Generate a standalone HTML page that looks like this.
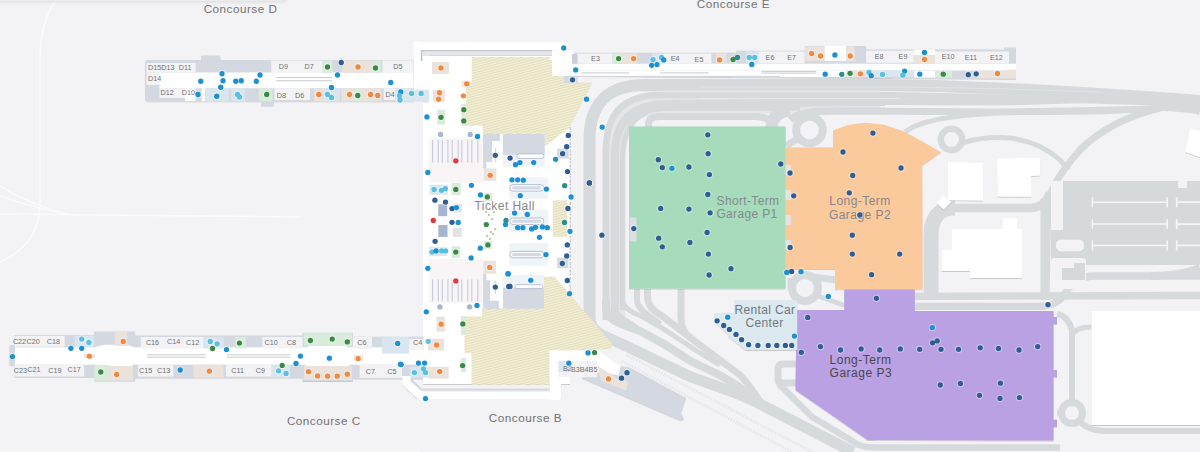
<!DOCTYPE html>
<html><head><meta charset="utf-8"><title>Airport Map</title>
<style>
html,body{margin:0;padding:0;background:#f3f3f5;}
body{width:1200px;height:452px;overflow:hidden;position:relative;font-family:"Liberation Sans",sans-serif;}
svg{display:block;position:absolute;left:0;top:0;}
svg text{font-family:"Liberation Sans",sans-serif;}
.topbar{position:absolute;left:-10px;top:-12px;width:300px;height:13px;border-radius:0 0 10px 0;box-shadow:0 1px 4px rgba(0,0,0,0.10);background:#ebebed;}
.botbar{position:absolute;left:0;top:449.5px;width:420px;height:10px;background:#f7f7f8;}
</style></head><body>
<svg width="1200" height="452" viewBox="0 0 1200 452">
<rect width="1200" height="452" fill="#f3f3f5"/>
<defs><pattern id="hatch" width="2.5" height="2.5" patternUnits="userSpaceOnUse" patternTransform="rotate(-15)"><rect width="2.5" height="2.5" fill="#f2efda"/><rect width="2.5" height="1.15" fill="#e4deb8"/></pattern><filter id="sh" x="-5%" y="-5%" width="110%" height="115%"><feDropShadow dx="0" dy="0.6" stdDeviation="0.65" flood-color="#000" flood-opacity="0.28"/></filter><filter id="sh2" x="-5%" y="-5%" width="110%" height="115%"><feDropShadow dx="0" dy="0.5" stdDeviation="0.5" flood-color="#000" flood-opacity="0.15"/></filter></defs>
<path d="M56,0 Q40,22 40,60 L40,205 Q39,245 0,262" fill="none" stroke="#fbfbfc" stroke-width="1.6" />
<path d="M0,214 Q150,215 300,217" fill="none" stroke="#fbfbfc" stroke-width="1.4" />
<path d="M0,186 Q30,205 70,215" fill="none" stroke="#fbfbfc" stroke-width="1.2" />
<path d="M0,196 Q40,210 80,216" fill="none" stroke="#fbfbfc" stroke-width="1.2" />
<path d="M589.5,320 L589.5,140 Q589.5,85 645,85 L880,85 Q1000,86 1200,101" fill="none" stroke="#d7dadd" stroke-width="12" />
<path d="M613.75,320 L613.75,155 Q613.75,102 668,102 L880,102" fill="none" stroke="#e4e6e9" stroke-width="23" />
<path d="M606,320 L606,150 Q606,95 660,95 L880,95 Q1000,97 1200,104" fill="none" stroke="#d7dadd" stroke-width="6.5" />
<path d="M615,320 L615,155 Q615,104 668,104 L880,102 Q1000,103 1200,106" fill="none" stroke="#d7dadd" stroke-width="8" />
<path d="M622.5,310 L622.5,160 Q622.5,108 668,108 L800,108" fill="none" stroke="#d7dadd" stroke-width="5.5" />
<path d="M648.5,127 L648.5,124 Q648.5,116.5 660,116.5 L755,116.5 Q771.5,116.5 771.5,128" fill="none" stroke="#d7dadd" stroke-width="7" />
<path d="M790,120 Q800,111 830,111 L880,111 Q1000,111.5 1080,111 Q1130,110 1160,107 Q1185,108 1200,111" fill="none" stroke="#d7dadd" stroke-width="7.5" />
<polygon points="885,105 1000,105.6 1080,103.3 1155,105.5 1080,107.3 1000,108.5 885,107.7" fill="#f3f3f5" />
<path d="M640,91.6 L880,91.6" fill="none" stroke="#e8eaec" stroke-width="1" />
<path d="M700,87 L900,87 Q1000,88 1100,92" fill="none" stroke="#e3e5e7" stroke-width="0.8" />
<path d="M700,98.4 L900,98.4" fill="none" stroke="#e6e8ea" stroke-width="1" />
<path d="M771.5,128 Q771.5,113 790,110" fill="none" stroke="#d7dadd" stroke-width="12" />
<circle cx="809.5" cy="130" r="13.3" fill="none" stroke="#d7dadd" stroke-width="8"/>
<path d="M786,146 L800,137" fill="none" stroke="#d7dadd" stroke-width="7" />
<path d="M905,132 Q925,116 1000,113 L1050,111.5" fill="none" stroke="#d7dadd" stroke-width="5" />
<circle cx="951.5" cy="139.5" r="10.7" fill="none" stroke="#d7dadd" stroke-width="6.5"/>
<path d="M962,143 Q985,136 1010,138 Q1040,142 1060,160 L1068,170" fill="none" stroke="#d7dadd" stroke-width="5" />
<path d="M1160,108 Q1110,120 1080,150 Q1055,178 1048,200 L1046,300" fill="none" stroke="#d7dadd" stroke-width="7" />
<path d="M955,208 Q931,208 931,236 L931,300" fill="none" stroke="#d7dadd" stroke-width="15" />
<path d="M945,208 L1030,208 Q1044,207.5 1050,193" fill="none" stroke="#d7dadd" stroke-width="8.5" />
<path d="M1044.7,200 L1044.7,300" fill="none" stroke="#d7dadd" stroke-width="8.6" />
<path d="M915,296.3 L1200,295.5" fill="none" stroke="#d7dadd" stroke-width="7.3" />
<path d="M915,306.4 L1040,306.4 Q1058,306 1066,292 Q1076,276 1095,276 L1200,276" fill="none" stroke="#d7dadd" stroke-width="7.3" />
<path d="M1150,276 Q1180,276 1200,268" fill="none" stroke="#d7dadd" stroke-width="8" />
<rect x="1051" y="181" width="149" height="84" fill="#d6d9dc"/>
<rect x="1051" y="181" width="12" height="49" fill="#f3f3f5"/>
<rect x="1056" y="239.7" width="28" height="11.6" fill="#f3f3f5" rx="5"/>
<rect x="1178" y="181" width="9" height="7" fill="#f3f3f5" rx="1"/>
<path d="M1092.4,202.2 H1167.2 M1092.4,197.2 V207.2 M1167.2,197.2 V207.2" fill="none" stroke="#f4f5f6" stroke-width="1.5" />
<path d="M1176.7,197.2 V207.2 M1176.7,202.2 H1200" fill="none" stroke="#f4f5f6" stroke-width="1.8" />
<path d="M1092.4,224.1 H1167.2 M1092.4,219.1 V229.1 M1167.2,219.1 V229.1" fill="none" stroke="#f4f5f6" stroke-width="1.5" />
<path d="M1176.7,219.1 V229.1 M1176.7,224.1 H1200" fill="none" stroke="#f4f5f6" stroke-width="1.8" />
<path d="M1092.4,245.4 H1167.2 M1092.4,240.4 V250.4 M1167.2,240.4 V250.4" fill="none" stroke="#f4f5f6" stroke-width="1.5" />
<path d="M1176.7,240.4 V250.4 M1176.7,245.4 H1200" fill="none" stroke="#f4f5f6" stroke-width="1.8" />
<rect x="1051" y="258" width="35" height="31" fill="#f3f3f5" rx="3"/>
<rect x="1062" y="263" width="23" height="17" fill="#d6d9dc"/>
<rect x="1062" y="263" width="12" height="5" fill="#f3f3f5"/>
<path d="M1057,314 Q1068,316 1072,330 L1072,402" fill="none" stroke="#d7dadd" stroke-width="6" />
<path d="M1072,335 Q1076,327 1092,327" fill="none" stroke="#d7dadd" stroke-width="5" />
<circle cx="1072" cy="413" r="10.5" fill="none" stroke="#d7dadd" stroke-width="7"/>
<path d="M1080,422 Q1090,431 1105,431 L1200,431" fill="none" stroke="#d7dadd" stroke-width="6" />
<path d="M1060,413 L1057,413" fill="none" stroke="#d7dadd" stroke-width="5" />
<circle cx="805" cy="288" r="13" fill="none" stroke="#d7dadd" stroke-width="8"/>
<path d="M818,296 L846,306" fill="none" stroke="#d7dadd" stroke-width="5" />
<path d="M812,277 L846,281" fill="none" stroke="#d7dadd" stroke-width="7" />
<rect x="786" y="250" width="4.5" height="26" fill="#d7dadd"/>
<path d="M790,278 L790,290" fill="none" stroke="#d7dadd" stroke-width="5" />
<path d="M589.5,300 L589.5,314 C589.5,325 594,331 604,336 L628.7,347.2 L689.6,376.4 L720,387.4 Q745,396 762,405 L853,452" fill="none" stroke="#d7dadd" stroke-width="11" />
<path d="M606,300 L606,308 C606,316 612,320 621.4,324 L640.9,331.4 L665.2,344.8 L689.6,360.6 L720,375.2 Q742,387 762,405" fill="none" stroke="#d7dadd" stroke-width="8" />
<path d="M615,300 L615,306 C615,314 620,318 628,322 L641,331.4" fill="none" stroke="#d7dadd" stroke-width="6" />
<path d="M622.5,295 L622.5,300 C622.5,306 630,312 640.9,316 L660.4,327 L700,353 L720,365" fill="none" stroke="#d7dadd" stroke-width="5" />
<path d="M637,289 L637,300 C637,306 641,310 648,315 L660.4,324.1" fill="none" stroke="#d7dadd" stroke-width="6" />
<path d="M647.5,289 L647.5,296 C647.5,305 652,310 662,316 L700,345 L740,375 Q752,388 762,405" fill="none" stroke="#d7dadd" stroke-width="7" />
<path d="M681,289 L681,318 C681,328 684,333 691,338.5" fill="none" stroke="#d7dadd" stroke-width="7" />
<path d="M798,364 L783,364 Q778,364 778,369 L778,378 Q778,383 783,383 L798,383" fill="none" stroke="#d7dadd" stroke-width="7" />
<path d="M778,378 Q778,385 784,389 L812.2,417 L852.9,441.4 Q860,447.5 875,447.5 L1060,447.5" fill="none" stroke="#d7dadd" stroke-width="6.5" />
<path d="M626.5,354.7 L812.2,452" fill="none" stroke="#e5e6e9" stroke-width="3" stroke-dasharray="1.4 1.4"/>
<path d="M622,361.3 L791.8,452" fill="none" stroke="#e5e6e9" stroke-width="3" stroke-dasharray="1.4 1.4"/>
<polygon points="947.5,162 983.4,162.6 983,200.5 947.5,200" fill="#fff" filter="url(#sh)"/>
<polygon points="997,158.5 1040,157.5 1040.5,175.5 1031,176 1031,196.8 997.5,196.5" fill="#fff" filter="url(#sh)"/>
<polygon points="936.2,203 943.3,194.8 951.1,202 943.8,209.5" fill="#fff" filter="url(#sh)"/>
<polygon points="952,229 1003,229 1003,218 1017,218 1017,229 1022,229 1022,278 970,278 970,271 941.6,271 941.6,249.6 952,249.6" fill="#fff" filter="url(#sh)"/>
<polygon points="1190,128 1200,131 1200,157 1185,152" fill="#fff" filter="url(#sh)"/>
<rect x="1091.5" y="311" width="108.5" height="114" fill="#fff" filter="url(#sh)"/>
<rect x="629" y="126.5" width="156.5" height="162" fill="#a6dcbb" filter="url(#sh)"/>
<polygon points="785.5,147.5 833.2,147.5 833.2,130.5 848,125 865,122.7 885,125 905,132 925,143 941,152.2 922.2,165.3 922.5,289.2 835,289.2 835,269 785.5,269" fill="#fbca9c" filter="url(#sh)"/>
<polygon points="844.3,289.5 914.8,289.5 914.8,311 1053.5,311 1053.5,317 1057,317 1057,324 1053.5,324 1053.5,370 1057,370 1057,377 1053.5,377 1053.5,419.7 1057,419.7 1057,426.7 1053.5,426.7 1053.5,440.5 867.6,440 795.5,390 796.6,310 844.3,310" fill="#b9a1e4" filter="url(#sh)"/>
<rect x="785.5" y="165" width="5.5" height="10" fill="#e5e3e0"/>
<rect x="785.5" y="190" width="5.5" height="10" fill="#e5e3e0"/>
<rect x="785.5" y="215" width="5.5" height="10" fill="#e5e3e0"/>
<rect x="785.5" y="240" width="5.5" height="10" fill="#e5e3e0"/>
<rect x="629.7" y="217.5" width="6.8" height="23.9" fill="#dcdee1"/>
<polygon points="734,300.3 797.3,300.3 797.3,350.1 745.5,350.1 728.2,336.2 727.6,333.5 714.3,321.6 714.3,312.9 734,312.9" fill="#dce9f1" filter="url(#sh)"/>
<rect x="413.4" y="41.6" width="153.3" height="8.6" fill="#fff" filter="url(#sh)"/>
<rect x="413.4" y="41.6" width="8.1" height="19.4" fill="#fff" filter="url(#sh)"/>
<rect x="413.4" y="45" width="153.3" height="5.2" fill="#fff"/>
<rect x="558" y="45" width="8.7" height="11" fill="#fff"/>
<polygon points="421.4,50.7 552,50.7 552,55.5 429.2,55.5 429.2,62 421.4,62" fill="#e4e6ea" />
<path d="M421.4,62 V50.7 H552" fill="none" stroke="#c3c7ce" stroke-width="1.3" />
<path d="M429.2,62 V55.5 H552" fill="none" stroke="#d3d6dc" stroke-width="0.9" />
<rect x="413.4" y="61" width="9.6" height="28.6" fill="#fff"/>
<rect x="413.4" y="89.6" width="9.6" height="12.2" fill="#dae6ef"/>
<polygon points="423,56 555,56 555,54 572,54 572,74 568,76 568,83 578,83 570,110 570,384 423,384" fill="#fff" filter="url(#sh)"/>
<path d="M570.2,112 L570.2,300" fill="none" stroke="#b9bec6" stroke-width="1.1" stroke-dasharray="3 1 2 1.5"/>
<polygon points="471.7,57 549.8,57 549.8,60 555,60 555,73 560,75 564,76 563.7,82 592.6,82.8 569.7,127.6 544.8,146.5 544.8,134 482.7,134 482.7,125.7 465.8,125.7 465.8,86 471.7,86" fill="url(#hatch)" />
<polygon points="464.5,316.4 482,316.4 482,308.6 544,308.6 544,276.7 554.8,276.7 611.5,343 611.5,349 549.7,351.8 549.7,384.8 471.5,384.8 471.5,353.2 464.5,353.2" fill="url(#hatch)" />
<polygon points="552.8,200.3 567.2,200.3 567.2,236.9 552.8,236.9" fill="url(#hatch)" />
<rect x="429" y="138" width="54.3" height="44.7" fill="#f9f4f5"/>
<rect x="429" y="258.8" width="54.3" height="44.5" fill="#f9f4f5"/>
<rect x="432.05" y="140" width="1.1" height="22.5" fill="#c3cbde"/>
<rect x="432.05" y="279.5" width="1.1" height="21.8" fill="#c3cbde"/>
<rect x="437.75" y="140" width="1.1" height="22.5" fill="#c3cbde"/>
<rect x="437.75" y="279.5" width="1.1" height="21.8" fill="#c3cbde"/>
<rect x="441.75" y="140" width="1.1" height="22.5" fill="#c3cbde"/>
<rect x="441.75" y="279.5" width="1.1" height="21.8" fill="#c3cbde"/>
<rect x="447.35" y="140" width="1.1" height="22.5" fill="#c3cbde"/>
<rect x="447.35" y="279.5" width="1.1" height="21.8" fill="#c3cbde"/>
<rect x="451.65" y="140" width="1.1" height="22.5" fill="#c3cbde"/>
<rect x="451.65" y="279.5" width="1.1" height="21.8" fill="#c3cbde"/>
<rect x="457.65" y="140" width="1.1" height="22.5" fill="#c3cbde"/>
<rect x="457.65" y="279.5" width="1.1" height="21.8" fill="#c3cbde"/>
<rect x="461.25" y="140" width="1.1" height="22.5" fill="#c3cbde"/>
<rect x="461.25" y="279.5" width="1.1" height="21.8" fill="#c3cbde"/>
<rect x="467.25" y="140" width="1.1" height="22.5" fill="#c3cbde"/>
<rect x="467.25" y="279.5" width="1.1" height="21.8" fill="#c3cbde"/>
<rect x="471.25" y="140" width="1.1" height="22.5" fill="#c3cbde"/>
<rect x="471.25" y="279.5" width="1.1" height="21.8" fill="#c3cbde"/>
<rect x="477.25" y="140" width="1.1" height="22.5" fill="#c3cbde"/>
<rect x="477.25" y="279.5" width="1.1" height="21.8" fill="#c3cbde"/>
<polygon points="483.1,133.8 499.9,133.8 499.9,141 492,141 492,162 486.4,162 486.4,168.4 483.1,168.4" fill="#d3d8e1" />
<rect x="495.2" y="148" width="1" height="14" fill="#c5ccd9"/>
<rect x="503" y="134" width="41.8" height="20.9" fill="#d3d8e1"/>
<rect x="503" y="154.9" width="41.8" height="11.9" fill="#eef4f8"/>
<rect x="517" y="153.9" width="26.8" height="4.6" fill="#fff" rx="2" stroke="#aeb8cb" stroke-width="0.8"/>
<rect x="509" y="177.2" width="39.4" height="21.9" fill="#eef4f8" rx="3"/>
<rect x="510" y="184.7" width="33.8" height="6.4" fill="#fff" rx="3" stroke="#aeb8cb" stroke-width="0.9"/>
<rect x="512" y="186.3" width="29" height="3.2" fill="#d3dae6" rx="1.5"/>
<rect x="509" y="209.6" width="39.4" height="22.7" fill="#eef4f8" rx="3"/>
<rect x="510" y="218" width="33.8" height="6.4" fill="#fff" rx="3" stroke="#aeb8cb" stroke-width="0.9"/>
<rect x="512" y="219.6" width="29" height="3.2" fill="#d3dae6" rx="1.5"/>
<rect x="509" y="242.9" width="39.4" height="22.5" fill="#eef4f8" rx="3"/>
<rect x="510" y="251.4" width="33.8" height="6.4" fill="#fff" rx="3" stroke="#aeb8cb" stroke-width="0.9"/>
<rect x="512" y="253" width="29" height="3.2" fill="#d3dae6" rx="1.5"/>
<rect x="503" y="275" width="41" height="12.7" fill="#eef4f8"/>
<rect x="503" y="287.7" width="41" height="21.1" fill="#d3d8e1"/>
<rect x="515" y="284.7" width="28" height="3.9" fill="#fff" rx="2" stroke="#aeb8cb" stroke-width="0.8"/>
<polygon points="483.1,273.7 486.4,273.7 486.4,280.2 490.1,280.2 490.1,300.7 498.9,300.7 498.9,308.9 483.1,308.9" fill="#d3d8e1" />
<rect x="494.7" y="280.5" width="1" height="13.5" fill="#c5ccd9"/>
<rect x="483.7" y="168.4" width="12.6" height="12.4" fill="#ebe2dc"/>
<rect x="483.3" y="260.8" width="12.8" height="12.9" fill="#ebe2dc"/>
<rect x="438.3" y="204.3" width="8.9" height="11.9" fill="#a7b5d0"/>
<rect x="438.3" y="225" width="9.2" height="11.9" fill="#a7b5d0"/>
<rect x="452.9" y="203.7" width="8.9" height="8.9" fill="#e2e3e7"/>
<rect x="452.9" y="227.9" width="8.9" height="9" fill="#e2e3e7"/>
<rect x="429.6" y="184.7" width="18.3" height="10" fill="#dae6ef"/>
<rect x="429" y="246.8" width="17.9" height="9.4" fill="#dae6ef"/>
<rect x="451.5" y="183.1" width="9.3" height="11.9" fill="#d9ecdc"/>
<rect x="451.5" y="246.4" width="8.7" height="11.4" fill="#d9ecdc"/>
<rect x="484" y="193" width="8" height="8" fill="#d9ecdc"/>
<rect x="484" y="241" width="8" height="8" fill="#d9ecdc"/>
<rect x="557.2" y="148.5" width="11.5" height="10" fill="#d3d8e1"/>
<rect x="557.2" y="257.8" width="11.1" height="10.3" fill="#d3d8e1"/>
<rect x="432" y="62" width="17" height="11.9" fill="#ebe2dc"/>
<rect x="432.9" y="89.8" width="11.9" height="12" fill="#ebe2dc"/>
<rect x="461.8" y="80.8" width="8.9" height="6" fill="#ebe2dc"/>
<rect x="437.3" y="109.7" width="7.9" height="15" fill="#d9ecdc"/>
<rect x="461.5" y="104" width="4.5" height="22" fill="#d9ecdc"/>
<rect x="423" y="89.8" width="6" height="12.9" fill="#dae6ef"/>
<rect x="436.5" y="316.9" width="8.5" height="14.6" fill="#ebe2dc"/>
<rect x="461" y="316" width="5" height="19" fill="#d9ecdc"/>
<rect x="461" y="358" width="5" height="14" fill="#d9ecdc"/>
<polygon points="147,60 200.75,60 201.5,55.5 220,55.5 220.5,60 413.5,60 413.5,101.3 273.75,101.3 273.75,105.5 261.25,105.5 261.25,101.3 147,101.3 145,99.3 145,62" fill="#d3d8e1" filter="url(#sh)"/>
<rect x="159.5" y="72.5" width="254" height="15.75" fill="#fff"/>
<rect x="146.5" y="63" width="49" height="9.5" fill="#f3f3f6"/>
<rect x="146.5" y="72.5" width="13.5" height="12.5" fill="#f3f3f6"/>
<rect x="159.5" y="88.25" width="25.5" height="9.75" fill="#f3f3f6"/>
<rect x="185" y="88.25" width="10.5" height="12.75" fill="#fbfbfc"/>
<rect x="271.25" y="60.5" width="51.25" height="12.5" fill="#f3f3f6"/>
<rect x="322.5" y="60.5" width="10" height="12.5" fill="#d9ecdc"/>
<rect x="342.5" y="60.5" width="30" height="12.5" fill="#ebe2dc"/>
<rect x="372.5" y="60.5" width="8.25" height="12.5" fill="#d9ecdc"/>
<rect x="382.5" y="60.5" width="31" height="12.5" fill="#f3f3f6"/>
<rect x="201.6" y="88.25" width="3.4" height="13.05" fill="#fff"/>
<rect x="205" y="88.25" width="23.75" height="13.05" fill="#dae6ef"/>
<rect x="231.25" y="88.25" width="13.75" height="13.05" fill="#dae6ef"/>
<rect x="258.75" y="88.25" width="13.75" height="13.05" fill="#d9ecdc"/>
<rect x="274.5" y="88.25" width="35.5" height="11.75" fill="#f3f3f6"/>
<rect x="313.75" y="88.25" width="8.75" height="13.05" fill="#ebe2dc"/>
<rect x="322.5" y="88.25" width="17.5" height="13.05" fill="#dae6ef"/>
<rect x="341.25" y="88.25" width="40" height="13.05" fill="#ebe2dc"/>
<rect x="353.75" y="88.25" width="8.75" height="13.05" fill="#d9ecdc"/>
<rect x="383.75" y="88.25" width="11.25" height="11.75" fill="#f3f3f6"/>
<rect x="395" y="88.25" width="18.5" height="13.05" fill="#dae6ef"/>
<rect x="276.25" y="77" width="55.75" height="1" fill="#c8cbd0"/>
<rect x="276.25" y="80.25" width="55.75" height="1" fill="#c8cbd0"/>
<polygon points="572,52.8 736.3,52.8 736.3,50.8 804.9,50.8 804.9,46 866.1,46 866.1,49.5 1004,49.5 1004,47.5 1015.5,47.5 1016,49 1016,78.8 572,76" fill="#d3d8e1" filter="url(#sh)"/>
<rect x="572" y="63.7" width="444" height="6.8" fill="#fff"/>
<rect x="572" y="70.5" width="208" height="5.3" fill="#fff"/>
<rect x="552" y="50.5" width="22" height="25.3" fill="#fff"/>
<rect x="780" y="70.5" width="66" height="6.5" fill="#fff"/>
<rect x="572" y="54" width="5.6" height="9.7" fill="#c9cfd9"/>
<rect x="563.7" y="75.9" width="14" height="6.9" fill="#d3d8e1"/>
<rect x="577.6" y="53.5" width="34.7" height="10.2" fill="#f3f3f6"/>
<rect x="612.3" y="53.5" width="9.7" height="10.2" fill="#d9ecdc"/>
<rect x="622" y="53.5" width="15.2" height="10.2" fill="#ebe2dc"/>
<rect x="652.3" y="53.5" width="10.9" height="10.2" fill="#dae6ef"/>
<rect x="663.2" y="53.5" width="22.8" height="10.2" fill="#f3f3f6"/>
<rect x="686" y="53.5" width="25.4" height="10.2" fill="#f3f3f6"/>
<rect x="715.8" y="53.5" width="10.8" height="10.2" fill="#ebe2dc"/>
<rect x="729.8" y="57" width="6.5" height="6.7" fill="#d9ecdc"/>
<rect x="746" y="51.3" width="12.5" height="12.4" fill="#dae6ef"/>
<rect x="758.5" y="51.5" width="46.1" height="11.8" fill="#f3f3f6"/>
<rect x="804.9" y="46.5" width="10.3" height="14.6" fill="#ebe2dc"/>
<rect x="815.2" y="46.5" width="9.5" height="14.6" fill="#ebe2dc"/>
<rect x="824.7" y="46" width="21.3" height="15.1" fill="#fff"/>
<rect x="846" y="46.5" width="8.7" height="14.6" fill="#ebe2dc"/>
<rect x="866.1" y="50.8" width="47.7" height="12" fill="#f3f3f6"/>
<rect x="913.8" y="49.5" width="21.2" height="5.5" fill="#fff"/>
<rect x="913.8" y="55" width="21.2" height="8.5" fill="#ebe2dc"/>
<rect x="935" y="51.5" width="74" height="12" fill="#f3f3f6"/>
<rect x="846" y="70.3" width="8.2" height="6.7" fill="#d9ecdc"/>
<rect x="854.2" y="70.3" width="10.8" height="6.7" fill="#ebe2dc"/>
<rect x="865" y="70.3" width="48.8" height="6.7" fill="#dae6ef"/>
<rect x="914" y="71" width="21" height="6.5" fill="#fff"/>
<rect x="935" y="71" width="17" height="6.5" fill="#d9ecdc"/>
<rect x="978" y="71" width="38" height="7.5" fill="#ebe2dc"/>
<rect x="1007" y="69.5" width="9" height="1.5" fill="#ebe2dc"/>
<rect x="581.4" y="72.4" width="48" height="1" fill="#c8cbd0"/>
<rect x="660" y="72.4" width="48.7" height="1" fill="#c8cbd0"/>
<rect x="761.3" y="70.9" width="55" height="1" fill="#c8cbd0"/>
<rect x="761.3" y="72.6" width="55" height="1" fill="#c8cbd0"/>
<polygon points="14.4,335 94.2,335 94.2,331.5 135.2,331.5 135.2,335.5 302.7,335.5 302.7,332.7 353,332.7 353,336.8 423,336.8 423,378.4 353,378.4 353,381 302.7,381 302.7,377.6 135.2,377.6 135.2,380.4 94.2,380.4 94.2,376.8 14.4,376.8" fill="#d3d8e1" filter="url(#sh)"/>
<rect x="9.3" y="345" width="5.7" height="21" fill="#d3d8e1" rx="1"/>
<rect x="15" y="347.3" width="408" height="17.4" fill="#fff"/>
<path d="M94.2,350 Q97,345 105,344.8 L125,344.8 Q133,345 135.2,350 L135.2,362 Q133,367.5 125,367.8 L105,367.8 Q97,367.5 94.2,362 Z" fill="#fff" stroke="none" stroke-width="0" />
<polygon points="302.7,350 311,344.8 344,344.8 352.3,350 352.3,362 345,370.4 310,370.4 302.7,362" fill="#fff" />
<rect x="14.4" y="336" width="50.3" height="10.6" fill="#f3f3f6"/>
<rect x="74.8" y="336" width="19.4" height="11" fill="#dae6ef"/>
<rect x="14.4" y="364.5" width="69.7" height="12" fill="#f3f3f6"/>
<rect x="94.2" y="365" width="15.1" height="15.4" fill="#d9ecdc"/>
<rect x="109.3" y="366" width="23.7" height="14.4" fill="#ebe2dc"/>
<rect x="114.6" y="331.5" width="12.7" height="14.5" fill="#ebe2dc"/>
<rect x="84" y="354" width="11" height="4" fill="#ebe2dc"/>
<rect x="140.8" y="337" width="62.7" height="11.5" fill="#f3f3f6"/>
<rect x="203.5" y="337" width="20.1" height="11.5" fill="#dae6ef"/>
<rect x="235.2" y="337" width="10.8" height="11.5" fill="#d9ecdc"/>
<rect x="262.3" y="337" width="40.4" height="11.5" fill="#f3f3f6"/>
<rect x="138" y="364.7" width="35.3" height="11.8" fill="#f3f3f6"/>
<rect x="193.4" y="364.7" width="30.2" height="12.9" fill="#ebe2dc"/>
<rect x="225.9" y="364.7" width="45.7" height="11.8" fill="#f3f3f6"/>
<rect x="271.6" y="364.7" width="18.4" height="12.9" fill="#dae6ef"/>
<rect x="304" y="333" width="48" height="13" fill="#d9ecdc"/>
<rect x="304" y="366" width="48" height="14" fill="#ebe2dc"/>
<rect x="354" y="355" width="9" height="6" fill="#ebe2dc"/>
<rect x="353" y="337" width="19" height="12" fill="#f3f3f6"/>
<rect x="381.8" y="337" width="27.4" height="16.6" fill="#dae6ef"/>
<rect x="409.2" y="338.8" width="15.1" height="10.9" fill="#f3f3f6"/>
<rect x="359.6" y="364.5" width="42.5" height="13.5" fill="#f3f3f6"/>
<rect x="409.7" y="366.8" width="19" height="10.9" fill="#dae6ef"/>
<rect x="428.7" y="366.8" width="20" height="11.8" fill="#ebe2dc"/>
<rect x="428" y="338.8" width="16.3" height="11.7" fill="#ebe2dc"/>
<rect x="147" y="354.3" width="58.8" height="1" fill="#c8cbd0"/>
<rect x="147" y="356.7" width="58.8" height="1" fill="#c8cbd0"/>
<rect x="226.7" y="354.3" width="63.3" height="1" fill="#c8cbd0"/>
<rect x="226.7" y="356.7" width="63.3" height="1" fill="#c8cbd0"/>
<path d="M406.5,376 L406.5,383 L421.5,396.3 L556.8,396.3 L556.8,372" fill="none" stroke="#fff" stroke-width="8.5" stroke-linejoin="round" filter="url(#sh)"/>
<path d="M412,378.4 L412,381 L421.5,389.6 L550.8,389.6 L550.8,352" fill="none" stroke="#d6d9de" stroke-width="2.4" />
<polygon points="581.5,377.8 620.5,366.3 628.4,367.1 686,398.1 681,413 684.2,419 680,420.3" fill="#d3d8e1" filter="url(#sh)"/>
<polygon points="549.7,350.5 598.4,350.5 620.5,366.5 618.7,375.4 598,371 549.7,377" fill="#fff" />
<rect x="549.7" y="350.5" width="10.6" height="49.5" fill="#fff"/>
<rect x="558.5" y="360.9" width="38.6" height="16.3" fill="#f3f3f6"/>
<rect x="558.5" y="360.9" width="11.5" height="11.1" fill="#dae6ef"/>
<polygon points="597.5,365.7 618.7,379 628.5,381.6 625.8,390.4 601,380.7" fill="#ebe2dc" />
<g font-family="Liberation Sans, sans-serif">
<text x="240.5" y="12.75" font-size="11.7" fill="#727272" text-anchor="middle" letter-spacing="0.5" >Concourse D</text>
<text x="733.4" y="7.8" font-size="11.7" fill="#727272" text-anchor="middle" letter-spacing="0.5" >Concourse E</text>
<text x="323.75" y="424.6" font-size="11.7" fill="#727272" text-anchor="middle" letter-spacing="0.5" >Concourse C</text>
<text x="525.4" y="421.7" font-size="11.7" fill="#727272" text-anchor="middle" letter-spacing="0.5" >Concourse B</text>
<text x="504.7" y="209.6" font-size="12" fill="#888" text-anchor="middle" letter-spacing="0.45" >Ticket Hall</text>
<text x="748" y="204.6" font-size="12" fill="#848a8c" text-anchor="middle" letter-spacing="0.35" >Short-Term</text>
<text x="747" y="217.7" font-size="12" fill="#848a8c" text-anchor="middle" letter-spacing="0.35" >Garage P1</text>
<text x="860" y="204.7" font-size="12" fill="#85868e" text-anchor="middle" letter-spacing="0.45" >Long-Term</text>
<text x="860" y="218.6" font-size="12" fill="#85868e" text-anchor="middle" letter-spacing="0.45" >Garage P2</text>
<text x="764.9" y="313.6" font-size="12" fill="#6e777f" text-anchor="middle" letter-spacing="0.35" >Rental Car</text>
<text x="764.6" y="327.3" font-size="12" fill="#6e777f" text-anchor="middle" letter-spacing="0.35" >Center</text>
<text x="829.6" y="363.8" font-size="12" fill="#4a4750" text-anchor="start" letter-spacing="0.5" >Long-Term</text>
<text x="829.6" y="376.9" font-size="12" fill="#4a4750" text-anchor="start" letter-spacing="0.5" >Garage P3</text>
<text x="148" y="69.5" font-size="7.2" fill="#707070" text-anchor="start" >D15</text>
<text x="161.25" y="69.5" font-size="7.2" fill="#707070" text-anchor="start" >D13</text>
<text x="178.75" y="69.5" font-size="7.2" fill="#707070" text-anchor="start" >D11</text>
<text x="148" y="80.5" font-size="7.2" fill="#707070" text-anchor="start" >D14</text>
<text x="160.5" y="94.5" font-size="7.2" fill="#707070" text-anchor="start" >D12</text>
<text x="181.75" y="94.5" font-size="7.2" fill="#707070" text-anchor="start" >D10</text>
<text x="278.75" y="68.75" font-size="7.2" fill="#707070" text-anchor="start" >D9</text>
<text x="304.5" y="68.75" font-size="7.2" fill="#707070" text-anchor="start" >D7</text>
<text x="393.25" y="69" font-size="7.2" fill="#707070" text-anchor="start" >D5</text>
<text x="276.75" y="97.5" font-size="7.2" fill="#707070" text-anchor="start" >D8</text>
<text x="295" y="97.5" font-size="7.2" fill="#707070" text-anchor="start" >D6</text>
<text x="385.5" y="97" font-size="7.2" fill="#707070" text-anchor="start" >D4</text>
<text x="591.1" y="61" font-size="7.2" fill="#707070" text-anchor="start" >E3</text>
<text x="670.8" y="61" font-size="7.2" fill="#707070" text-anchor="start" >E4</text>
<text x="694.6" y="61.7" font-size="7.2" fill="#707070" text-anchor="start" >E5</text>
<text x="765.6" y="59.5" font-size="7.2" fill="#707070" text-anchor="start" >E6</text>
<text x="787.3" y="60.4" font-size="7.2" fill="#707070" text-anchor="start" >E7</text>
<text x="874.8" y="59" font-size="7.2" fill="#707070" text-anchor="start" >E8</text>
<text x="898.6" y="59" font-size="7.2" fill="#707070" text-anchor="start" >E9</text>
<text x="941.8" y="59" font-size="7.2" fill="#707070" text-anchor="start" >E10</text>
<text x="964.8" y="59.8" font-size="7.2" fill="#707070" text-anchor="start" >E11</text>
<text x="990" y="59.8" font-size="7.2" fill="#707070" text-anchor="start" >E12</text>
<text x="12.9" y="343.7" font-size="7.2" fill="#707070" text-anchor="start" >C22</text>
<text x="26.6" y="343.7" font-size="7.2" fill="#707070" text-anchor="start" >C20</text>
<text x="46.7" y="343.7" font-size="7.2" fill="#707070" text-anchor="start" >C18</text>
<text x="145.9" y="344.8" font-size="7.2" fill="#707070" text-anchor="start" >C16</text>
<text x="167.1" y="344" font-size="7.2" fill="#707070" text-anchor="start" >C14</text>
<text x="186.1" y="344.8" font-size="7.2" fill="#707070" text-anchor="start" >C12</text>
<text x="264.6" y="345.2" font-size="7.2" fill="#707070" text-anchor="start" >C10</text>
<text x="286.7" y="344.8" font-size="7.2" fill="#707070" text-anchor="start" >C8</text>
<text x="357.3" y="345.3" font-size="7.2" fill="#707070" text-anchor="start" >C6</text>
<text x="413.1" y="344.8" font-size="7.2" fill="#707070" text-anchor="start" >C4</text>
<text x="13.7" y="372.5" font-size="7.2" fill="#707070" text-anchor="start" >C23</text>
<text x="27.3" y="371.5" font-size="7.2" fill="#707070" text-anchor="start" >C21</text>
<text x="48.2" y="372.5" font-size="7.2" fill="#707070" text-anchor="start" >C19</text>
<text x="67.6" y="372" font-size="7.2" fill="#707070" text-anchor="start" >C17</text>
<text x="139" y="372.6" font-size="7.2" fill="#707070" text-anchor="start" >C15</text>
<text x="157" y="372.6" font-size="7.2" fill="#707070" text-anchor="start" >C13</text>
<text x="231.3" y="373" font-size="7.2" fill="#707070" text-anchor="start" >C11</text>
<text x="255.8" y="373" font-size="7.2" fill="#707070" text-anchor="start" >C9</text>
<text x="365.8" y="373.6" font-size="7.2" fill="#707070" text-anchor="start" >C7</text>
<text x="387.4" y="373.6" font-size="7.2" fill="#707070" text-anchor="start" >C5</text>
<text x="563" y="371" font-size="7.2" fill="#707070" text-anchor="start" >B2</text>
<text x="571" y="371.5" font-size="7.2" fill="#707070" text-anchor="start" >B3B4B5</text>
</g>
<circle cx="486" cy="212" r="1" fill="#8fc79a"/>
<circle cx="494" cy="212" r="1" fill="#8fc79a"/>
<circle cx="489" cy="215" r="1" fill="#8fc79a"/>
<circle cx="495" cy="229" r="1" fill="#8fc79a"/>
<circle cx="491" cy="232" r="1" fill="#8fc79a"/>
<circle cx="487" cy="236" r="1" fill="#8fc79a"/>
<circle cx="490" cy="239" r="1" fill="#8fc79a"/>
<circle cx="493" cy="234" r="1" fill="#8fc79a"/>
<circle cx="492" cy="219" r="1" fill="#8fc79a"/>
<g fill="#fff" fill-opacity="0.4">
<circle cx="200.75" cy="81.25" r="3.65"/>
<circle cx="222" cy="73.75" r="3.65"/>
<circle cx="223" cy="80.75" r="3.65"/>
<circle cx="220.75" cy="87.25" r="3.65"/>
<circle cx="235.75" cy="81.25" r="3.65"/>
<circle cx="241.25" cy="80.75" r="3.65"/>
<circle cx="256.25" cy="81.25" r="3.65"/>
<circle cx="260" cy="75" r="3.65"/>
<circle cx="198" cy="94.5" r="3.65"/>
<circle cx="216.75" cy="96.25" r="3.65"/>
<circle cx="237.5" cy="94.5" r="3.65"/>
<circle cx="239.5" cy="97" r="3.65"/>
<circle cx="266.75" cy="94.5" r="3.65"/>
<circle cx="327.5" cy="67" r="3.65"/>
<circle cx="341.25" cy="62.5" r="3.65"/>
<circle cx="337.5" cy="75" r="3.65"/>
<circle cx="331.5" cy="87.5" r="3.65"/>
<circle cx="358" cy="67" r="3.65"/>
<circle cx="375.5" cy="68" r="3.65"/>
<circle cx="390.75" cy="82.5" r="3.65"/>
<circle cx="318.75" cy="94.5" r="3.65"/>
<circle cx="327.5" cy="94.5" r="3.65"/>
<circle cx="331.5" cy="97.5" r="3.65"/>
<circle cx="349.5" cy="94.5" r="3.65"/>
<circle cx="357.75" cy="95.5" r="3.65"/>
<circle cx="370.5" cy="94.5" r="3.65"/>
<circle cx="377.75" cy="95.5" r="3.65"/>
<circle cx="400.75" cy="92" r="3.65"/>
<circle cx="399.5" cy="95.5" r="3.65"/>
<circle cx="400" cy="100" r="3.65"/>
<circle cx="411.5" cy="93.5" r="3.65"/>
<circle cx="421.1" cy="93.5" r="3.65"/>
<circle cx="440.9" cy="67.9" r="3.65"/>
<circle cx="439.5" cy="92.7" r="3.65"/>
<circle cx="438.6" cy="99.2" r="3.65"/>
<circle cx="466.7" cy="83.8" r="3.65"/>
<circle cx="463.4" cy="95.8" r="3.65"/>
<circle cx="441" cy="117.3" r="3.65"/>
<circle cx="426.9" cy="116.9" r="3.65"/>
<circle cx="463.8" cy="109.7" r="3.65"/>
<circle cx="463.8" cy="120.9" r="3.65"/>
<circle cx="563.7" cy="48" r="3.65"/>
<circle cx="575.7" cy="69.9" r="3.65"/>
<circle cx="572.5" cy="79.8" r="3.65"/>
<circle cx="586.5" cy="99.2" r="3.65"/>
<circle cx="602.2" cy="127.1" r="3.65"/>
<circle cx="618.6" cy="58.6" r="3.65"/>
<circle cx="633.6" cy="58.6" r="3.65"/>
<circle cx="653" cy="59.7" r="3.65"/>
<circle cx="651.6" cy="65.3" r="3.65"/>
<circle cx="657" cy="64.6" r="3.65"/>
<circle cx="661.5" cy="57.5" r="3.65"/>
<circle cx="663.8" cy="59.9" r="3.65"/>
<circle cx="719.5" cy="59.9" r="3.65"/>
<circle cx="733.1" cy="59.5" r="3.65"/>
<circle cx="737.5" cy="57.5" r="3.65"/>
<circle cx="749.3" cy="57.5" r="3.65"/>
<circle cx="754.7" cy="57.5" r="3.65"/>
<circle cx="751.8" cy="64.5" r="3.65"/>
<circle cx="811.6" cy="53.5" r="3.65"/>
<circle cx="820.6" cy="56" r="3.65"/>
<circle cx="834.9" cy="55" r="3.65"/>
<circle cx="850.2" cy="56" r="3.65"/>
<circle cx="825.2" cy="74.2" r="3.65"/>
<circle cx="841.8" cy="74.3" r="3.65"/>
<circle cx="850.1" cy="73.3" r="3.65"/>
<circle cx="860.4" cy="73.8" r="3.65"/>
<circle cx="869" cy="72.3" r="3.65"/>
<circle cx="871.2" cy="75.7" r="3.65"/>
<circle cx="882.5" cy="74.4" r="3.65"/>
<circle cx="904.6" cy="71.1" r="3.65"/>
<circle cx="902.8" cy="75.2" r="3.65"/>
<circle cx="919.8" cy="74.2" r="3.65"/>
<circle cx="924.5" cy="52.5" r="3.65"/>
<circle cx="924.5" cy="59.5" r="3.65"/>
<circle cx="943.2" cy="74.2" r="3.65"/>
<circle cx="968.3" cy="74.7" r="3.65"/>
<circle cx="976.2" cy="73.8" r="3.65"/>
<circle cx="997.5" cy="73.5" r="3.65"/>
<circle cx="440.5" cy="134.4" r="3.65"/>
<circle cx="470.2" cy="134.4" r="3.65"/>
<circle cx="477.5" cy="136.5" r="3.65"/>
<circle cx="455.8" cy="160.8" r="3.65"/>
<circle cx="427.8" cy="172.4" r="3.65"/>
<circle cx="495.3" cy="155.3" r="3.65"/>
<circle cx="490.2" cy="175.3" r="3.65"/>
<circle cx="434.1" cy="189.5" r="3.65"/>
<circle cx="441.5" cy="190.3" r="3.65"/>
<circle cx="445.3" cy="188.7" r="3.65"/>
<circle cx="455.8" cy="189.5" r="3.65"/>
<circle cx="471.4" cy="185.3" r="3.65"/>
<circle cx="480.5" cy="194.9" r="3.65"/>
<circle cx="487.3" cy="196.9" r="3.65"/>
<circle cx="434.9" cy="200.2" r="3.65"/>
<circle cx="445.5" cy="202.1" r="3.65"/>
<circle cx="452" cy="208.6" r="3.65"/>
<circle cx="456.4" cy="207.6" r="3.65"/>
<circle cx="433.3" cy="220.4" r="3.65"/>
<circle cx="452" cy="222.3" r="3.65"/>
<circle cx="458.2" cy="222.5" r="3.65"/>
<circle cx="435.1" cy="241.3" r="3.65"/>
<circle cx="432" cy="252.1" r="3.65"/>
<circle cx="436.1" cy="250.9" r="3.65"/>
<circle cx="441.7" cy="250.9" r="3.65"/>
<circle cx="445.7" cy="250.9" r="3.65"/>
<circle cx="455.8" cy="252.1" r="3.65"/>
<circle cx="480.3" cy="248.2" r="3.65"/>
<circle cx="471.1" cy="257.9" r="3.65"/>
<circle cx="455.8" cy="280.9" r="3.65"/>
<circle cx="427.8" cy="268.3" r="3.65"/>
<circle cx="489.7" cy="267.4" r="3.65"/>
<circle cx="495.3" cy="287.1" r="3.65"/>
<circle cx="506" cy="220.5" r="3.65"/>
<circle cx="505.5" cy="224.6" r="3.65"/>
<circle cx="486.3" cy="224.6" r="3.65"/>
<circle cx="487.9" cy="244.9" r="3.65"/>
<circle cx="507.9" cy="273.7" r="3.65"/>
<circle cx="508.7" cy="286.5" r="3.65"/>
<circle cx="510.1" cy="158.1" r="3.65"/>
<circle cx="515.5" cy="164.7" r="3.65"/>
<circle cx="519.9" cy="162.6" r="3.65"/>
<circle cx="533.7" cy="162.6" r="3.65"/>
<circle cx="555.6" cy="159.3" r="3.65"/>
<circle cx="568.3" cy="135.4" r="3.65"/>
<circle cx="566.7" cy="146.7" r="3.65"/>
<circle cx="562.6" cy="153.7" r="3.65"/>
<circle cx="567.5" cy="171.6" r="3.65"/>
<circle cx="564.7" cy="185.7" r="3.65"/>
<circle cx="571.1" cy="196.9" r="3.65"/>
<circle cx="567.9" cy="208.4" r="3.65"/>
<circle cx="589.4" cy="182.9" r="3.65"/>
<circle cx="512" cy="179.8" r="3.65"/>
<circle cx="517.7" cy="179.8" r="3.65"/>
<circle cx="523.3" cy="180.2" r="3.65"/>
<circle cx="546.4" cy="189.1" r="3.65"/>
<circle cx="520.3" cy="195.7" r="3.65"/>
<circle cx="514.6" cy="213.1" r="3.65"/>
<circle cx="527.3" cy="214.5" r="3.65"/>
<circle cx="517.7" cy="227.7" r="3.65"/>
<circle cx="522.9" cy="227.7" r="3.65"/>
<circle cx="531.7" cy="228.9" r="3.65"/>
<circle cx="535.5" cy="227.3" r="3.65"/>
<circle cx="542.4" cy="226.9" r="3.65"/>
<circle cx="547.3" cy="227.7" r="3.65"/>
<circle cx="539.5" cy="237.3" r="3.65"/>
<circle cx="564.5" cy="222.5" r="3.65"/>
<circle cx="570" cy="231.3" r="3.65"/>
<circle cx="546" cy="254.6" r="3.65"/>
<circle cx="567.3" cy="244.9" r="3.65"/>
<circle cx="566.7" cy="255.9" r="3.65"/>
<circle cx="562.3" cy="263.5" r="3.65"/>
<circle cx="508.3" cy="273.9" r="3.65"/>
<circle cx="530.7" cy="280.3" r="3.65"/>
<circle cx="510" cy="286.5" r="3.65"/>
<circle cx="567.3" cy="280.5" r="3.65"/>
<circle cx="569.5" cy="293.7" r="3.65"/>
<circle cx="601.9" cy="235.2" r="3.65"/>
<circle cx="589.3" cy="182.9" r="3.65"/>
<circle cx="439.9" cy="306.9" r="3.65"/>
<circle cx="469.6" cy="306.9" r="3.65"/>
<circle cx="477" cy="305.5" r="3.65"/>
<circle cx="426.3" cy="311.8" r="3.65"/>
<circle cx="441.1" cy="324.2" r="3.65"/>
<circle cx="462.8" cy="323.9" r="3.65"/>
<circle cx="428.2" cy="341.3" r="3.65"/>
<circle cx="436.5" cy="345" r="3.65"/>
<circle cx="418.5" cy="363.1" r="3.65"/>
<circle cx="424.6" cy="363.1" r="3.65"/>
<circle cx="423.4" cy="368.8" r="3.65"/>
<circle cx="414.4" cy="372.6" r="3.65"/>
<circle cx="425.5" cy="372.6" r="3.65"/>
<circle cx="439.7" cy="371.6" r="3.65"/>
<circle cx="401.2" cy="364.6" r="3.65"/>
<circle cx="462.6" cy="365.6" r="3.65"/>
<circle cx="425.5" cy="398.6" r="3.65"/>
<circle cx="568.8" cy="363.2" r="3.65"/>
<circle cx="588" cy="352.9" r="3.65"/>
<circle cx="594.6" cy="352.6" r="3.65"/>
<circle cx="608.5" cy="378.9" r="3.65"/>
<circle cx="621.5" cy="378.2" r="3.65"/>
<circle cx="627" cy="372.7" r="3.65"/>
<circle cx="12.4" cy="356.6" r="3.65"/>
<circle cx="70.9" cy="348.3" r="3.65"/>
<circle cx="81.7" cy="348.3" r="3.65"/>
<circle cx="81.7" cy="339.1" r="3.65"/>
<circle cx="88.9" cy="342.5" r="3.65"/>
<circle cx="89.3" cy="356.2" r="3.65"/>
<circle cx="123.2" cy="341.5" r="3.65"/>
<circle cx="100.8" cy="372" r="3.65"/>
<circle cx="116.6" cy="374.5" r="3.65"/>
<circle cx="210.2" cy="341.4" r="3.65"/>
<circle cx="217.2" cy="343.8" r="3.65"/>
<circle cx="212.5" cy="348.5" r="3.65"/>
<circle cx="226.5" cy="349.6" r="3.65"/>
<circle cx="239.4" cy="343.1" r="3.65"/>
<circle cx="180.2" cy="370" r="3.65"/>
<circle cx="209.4" cy="371.2" r="3.65"/>
<circle cx="282.2" cy="365.4" r="3.65"/>
<circle cx="278.6" cy="370.8" r="3.65"/>
<circle cx="286" cy="373.5" r="3.65"/>
<circle cx="310.4" cy="340.5" r="3.65"/>
<circle cx="332.2" cy="339.1" r="3.65"/>
<circle cx="347.3" cy="341.9" r="3.65"/>
<circle cx="308.5" cy="371.7" r="3.65"/>
<circle cx="317.5" cy="375.9" r="3.65"/>
<circle cx="327.5" cy="376.2" r="3.65"/>
<circle cx="337.2" cy="376.2" r="3.65"/>
<circle cx="347.3" cy="374.2" r="3.65"/>
<circle cx="300.4" cy="356.1" r="3.65"/>
<circle cx="296" cy="363.5" r="3.65"/>
<circle cx="329.4" cy="358.2" r="3.65"/>
<circle cx="358.1" cy="358.6" r="3.65"/>
<circle cx="397.7" cy="343.4" r="3.65"/>
<circle cx="400.5" cy="364.2" r="3.65"/>
<circle cx="707.8" cy="134.8" r="3.65"/>
<circle cx="708.1" cy="153.7" r="3.65"/>
<circle cx="658.3" cy="159.7" r="3.65"/>
<circle cx="662.3" cy="167.6" r="3.65"/>
<circle cx="671.9" cy="168.3" r="3.65"/>
<circle cx="688.9" cy="167" r="3.65"/>
<circle cx="709.4" cy="174.6" r="3.65"/>
<circle cx="707.8" cy="194.5" r="3.65"/>
<circle cx="660.7" cy="208.4" r="3.65"/>
<circle cx="688.9" cy="209.1" r="3.65"/>
<circle cx="710.1" cy="212.8" r="3.65"/>
<circle cx="633.8" cy="228.6" r="3.65"/>
<circle cx="780.8" cy="164" r="3.65"/>
<circle cx="790" cy="173" r="3.65"/>
<circle cx="793.7" cy="195.8" r="3.65"/>
<circle cx="658.7" cy="238.2" r="3.65"/>
<circle cx="662.3" cy="246.8" r="3.65"/>
<circle cx="689.9" cy="242.5" r="3.65"/>
<circle cx="707.1" cy="232.5" r="3.65"/>
<circle cx="708.4" cy="254.1" r="3.65"/>
<circle cx="731" cy="268.7" r="3.65"/>
<circle cx="709.1" cy="275" r="3.65"/>
<circle cx="790.1" cy="247.5" r="3.65"/>
<circle cx="786.8" cy="272.4" r="3.65"/>
<circle cx="791.7" cy="271.4" r="3.65"/>
<circle cx="801" cy="271.7" r="3.65"/>
<circle cx="872.9" cy="133.1" r="3.65"/>
<circle cx="843" cy="152" r="3.65"/>
<circle cx="901" cy="168" r="3.65"/>
<circle cx="852.7" cy="175.5" r="3.65"/>
<circle cx="849.3" cy="192.8" r="3.65"/>
<circle cx="859.8" cy="215" r="3.65"/>
<circle cx="852.3" cy="235.2" r="3.65"/>
<circle cx="852.3" cy="254.1" r="3.65"/>
<circle cx="899.7" cy="254.1" r="3.65"/>
<circle cx="871.6" cy="274.7" r="3.65"/>
<circle cx="876.4" cy="298.3" r="3.65"/>
<circle cx="828.3" cy="296.5" r="3.65"/>
<circle cx="807.8" cy="317.4" r="3.65"/>
<circle cx="1048" cy="304.7" r="3.65"/>
<circle cx="932.3" cy="327.6" r="3.65"/>
<circle cx="937.2" cy="340.9" r="3.65"/>
<circle cx="932.6" cy="342.8" r="3.65"/>
<circle cx="801.3" cy="352.3" r="3.65"/>
<circle cx="820.4" cy="346.6" r="3.65"/>
<circle cx="840.5" cy="350" r="3.65"/>
<circle cx="861.1" cy="348.9" r="3.65"/>
<circle cx="879.7" cy="350" r="3.65"/>
<circle cx="900.3" cy="348.9" r="3.65"/>
<circle cx="919.7" cy="349.3" r="3.65"/>
<circle cx="941" cy="349.3" r="3.65"/>
<circle cx="958.5" cy="349.3" r="3.65"/>
<circle cx="980.2" cy="347.8" r="3.65"/>
<circle cx="998.5" cy="348.5" r="3.65"/>
<circle cx="1019" cy="350" r="3.65"/>
<circle cx="1037.7" cy="346.6" r="3.65"/>
<circle cx="940.3" cy="385" r="3.65"/>
<circle cx="960.4" cy="383.5" r="3.65"/>
<circle cx="1000.4" cy="383.2" r="3.65"/>
<circle cx="979.5" cy="395.3" r="3.65"/>
<circle cx="1000" cy="398.4" r="3.65"/>
<circle cx="1019.4" cy="397.6" r="3.65"/>
<circle cx="727.7" cy="317.2" r="3.65"/>
<circle cx="717.1" cy="320.8" r="3.65"/>
<circle cx="723.7" cy="325.5" r="3.65"/>
<circle cx="729.4" cy="329.4" r="3.65"/>
<circle cx="736" cy="334.4" r="3.65"/>
<circle cx="741.6" cy="339.7" r="3.65"/>
<circle cx="748.6" cy="344.7" r="3.65"/>
<circle cx="757.9" cy="345.4" r="3.65"/>
<circle cx="768.2" cy="345.4" r="3.65"/>
<circle cx="776.8" cy="345.4" r="3.65"/>
<circle cx="785.4" cy="345.4" r="3.65"/>
<circle cx="791.7" cy="345.4" r="3.65"/>
<circle cx="794.4" cy="336.1" r="3.65"/>
</g>
<circle cx="200.75" cy="81.25" r="2.65" fill="#1c90d2"/>
<circle cx="222" cy="73.75" r="2.65" fill="#1c90d2"/>
<circle cx="223" cy="80.75" r="2.65" fill="#1c90d2"/>
<circle cx="220.75" cy="87.25" r="2.65" fill="#1c90d2"/>
<circle cx="235.75" cy="81.25" r="2.65" fill="#1c90d2"/>
<circle cx="241.25" cy="80.75" r="2.65" fill="#1c90d2"/>
<circle cx="256.25" cy="81.25" r="2.65" fill="#1c90d2"/>
<circle cx="260" cy="75" r="2.65" fill="#1c90d2"/>
<circle cx="198" cy="94.5" r="2.65" fill="#1c90d2"/>
<circle cx="216.75" cy="96.25" r="2.65" fill="#1c90d2"/>
<circle cx="237.5" cy="94.5" r="2.65" fill="#5bbfe2"/>
<circle cx="239.5" cy="97" r="2.65" fill="#5bbfe2"/>
<circle cx="266.75" cy="94.5" r="2.65" fill="#3a8a46"/>
<circle cx="327.5" cy="67" r="2.65" fill="#3a8a46"/>
<circle cx="341.25" cy="62.5" r="2.65" fill="#2f5d94"/>
<circle cx="337.5" cy="75" r="2.65" fill="#1c90d2"/>
<circle cx="331.5" cy="87.5" r="2.65" fill="#1c90d2"/>
<circle cx="358" cy="67" r="2.65" fill="#f08a40"/>
<circle cx="375.5" cy="68" r="2.65" fill="#3a8a46"/>
<circle cx="390.75" cy="82.5" r="2.65" fill="#1c90d2"/>
<circle cx="318.75" cy="94.5" r="2.65" fill="#f08a40"/>
<circle cx="327.5" cy="94.5" r="2.65" fill="#5bbfe2"/>
<circle cx="331.5" cy="97.5" r="2.65" fill="#5bbfe2"/>
<circle cx="349.5" cy="94.5" r="2.65" fill="#f08a40"/>
<circle cx="357.75" cy="95.5" r="2.65" fill="#3a8a46"/>
<circle cx="370.5" cy="94.5" r="2.65" fill="#f08a40"/>
<circle cx="377.75" cy="95.5" r="2.65" fill="#f08a40"/>
<circle cx="400.75" cy="92" r="2.65" fill="#1c90d2"/>
<circle cx="399.5" cy="95.5" r="2.65" fill="#5bbfe2"/>
<circle cx="400" cy="100" r="2.65" fill="#5bbfe2"/>
<circle cx="411.5" cy="93.5" r="2.65" fill="#5bbfe2"/>
<circle cx="421.1" cy="93.5" r="2.65" fill="#5bbfe2"/>
<circle cx="440.9" cy="67.9" r="2.65" fill="#f08a40"/>
<circle cx="439.5" cy="92.7" r="2.65" fill="#f08a40"/>
<circle cx="438.6" cy="99.2" r="2.65" fill="#f08a40"/>
<circle cx="466.7" cy="83.8" r="2.65" fill="#f08a40"/>
<circle cx="463.4" cy="95.8" r="2.65" fill="#f08a40"/>
<circle cx="441" cy="117.3" r="2.65" fill="#3a8a46"/>
<circle cx="426.9" cy="116.9" r="2.65" fill="#1c90d2"/>
<circle cx="463.8" cy="109.7" r="2.65" fill="#3a8a46"/>
<circle cx="463.8" cy="120.9" r="2.65" fill="#3a8a46"/>
<circle cx="563.7" cy="48" r="2.65" fill="#1c90d2"/>
<circle cx="575.7" cy="69.9" r="2.65" fill="#1c90d2"/>
<circle cx="572.5" cy="79.8" r="2.65" fill="#2f5d94"/>
<circle cx="586.5" cy="99.2" r="2.65" fill="#1c90d2"/>
<circle cx="602.2" cy="127.1" r="2.65" fill="#1c90d2"/>
<circle cx="618.6" cy="58.6" r="2.65" fill="#3a8a46"/>
<circle cx="633.6" cy="58.6" r="2.65" fill="#f08a40"/>
<circle cx="653" cy="59.7" r="2.65" fill="#5bbfe2"/>
<circle cx="651.6" cy="65.3" r="2.65" fill="#1c90d2"/>
<circle cx="657" cy="64.6" r="2.65" fill="#1c90d2"/>
<circle cx="661.5" cy="57.5" r="2.65" fill="#5bbfe2"/>
<circle cx="663.8" cy="59.9" r="2.65" fill="#1c90d2"/>
<circle cx="719.5" cy="59.9" r="2.65" fill="#f08a40"/>
<circle cx="733.1" cy="59.5" r="2.65" fill="#3a8a46"/>
<circle cx="737.5" cy="57.5" r="2.65" fill="#2b8e8b"/>
<circle cx="749.3" cy="57.5" r="2.65" fill="#5bbfe2"/>
<circle cx="754.7" cy="57.5" r="2.65" fill="#5bbfe2"/>
<circle cx="751.8" cy="64.5" r="2.65" fill="#1c90d2"/>
<circle cx="811.6" cy="53.5" r="2.65" fill="#f08a40"/>
<circle cx="820.6" cy="56" r="2.65" fill="#f08a40"/>
<circle cx="834.9" cy="55" r="2.65" fill="#1c90d2"/>
<circle cx="850.2" cy="56" r="2.65" fill="#f08a40"/>
<circle cx="825.2" cy="74.2" r="2.65" fill="#1c90d2"/>
<circle cx="841.8" cy="74.3" r="2.65" fill="#2b8e8b"/>
<circle cx="850.1" cy="73.3" r="2.65" fill="#3a8a46"/>
<circle cx="860.4" cy="73.8" r="2.65" fill="#f08a40"/>
<circle cx="869" cy="72.3" r="2.65" fill="#5bbfe2"/>
<circle cx="871.2" cy="75.7" r="2.65" fill="#1c90d2"/>
<circle cx="882.5" cy="74.4" r="2.65" fill="#5bbfe2"/>
<circle cx="904.6" cy="71.1" r="2.65" fill="#1c90d2"/>
<circle cx="902.8" cy="75.2" r="2.65" fill="#5bbfe2"/>
<circle cx="919.8" cy="74.2" r="2.65" fill="#1c90d2"/>
<circle cx="924.5" cy="52.5" r="2.65" fill="#1c90d2"/>
<circle cx="924.5" cy="59.5" r="2.65" fill="#f08a40"/>
<circle cx="943.2" cy="74.2" r="2.65" fill="#3a8a46"/>
<circle cx="968.3" cy="74.7" r="2.65" fill="#2f5d94"/>
<circle cx="976.2" cy="73.8" r="2.65" fill="#2f5d94"/>
<circle cx="997.5" cy="73.5" r="2.65" fill="#f08a40"/>
<circle cx="440.5" cy="134.4" r="2.65" fill="#a8b5d0"/>
<circle cx="470.2" cy="134.4" r="2.65" fill="#a8b5d0"/>
<circle cx="477.5" cy="136.5" r="2.65" fill="#1c90d2"/>
<circle cx="455.8" cy="160.8" r="2.65" fill="#e6393f"/>
<circle cx="427.8" cy="172.4" r="2.65" fill="#1c90d2"/>
<circle cx="495.3" cy="155.3" r="2.65" fill="#2f5d94"/>
<circle cx="490.2" cy="175.3" r="2.65" fill="#f08a40"/>
<circle cx="434.1" cy="189.5" r="2.65" fill="#5bbfe2"/>
<circle cx="441.5" cy="190.3" r="2.65" fill="#5bbfe2"/>
<circle cx="445.3" cy="188.7" r="2.65" fill="#5bbfe2"/>
<circle cx="455.8" cy="189.5" r="2.65" fill="#3a8a46"/>
<circle cx="471.4" cy="185.3" r="2.65" fill="#1c90d2"/>
<circle cx="480.5" cy="194.9" r="2.65" fill="#1c90d2"/>
<circle cx="487.3" cy="196.9" r="2.65" fill="#3a8a46"/>
<circle cx="434.9" cy="200.2" r="2.65" fill="#2f5d94"/>
<circle cx="445.5" cy="202.1" r="2.65" fill="#2f5d94"/>
<circle cx="452" cy="208.6" r="2.65" fill="#2f5d94"/>
<circle cx="456.4" cy="207.6" r="2.65" fill="#1c90d2"/>
<circle cx="433.3" cy="220.4" r="2.65" fill="#e6393f"/>
<circle cx="452" cy="222.3" r="2.65" fill="#2f5d94"/>
<circle cx="458.2" cy="222.5" r="2.65" fill="#1c90d2"/>
<circle cx="435.1" cy="241.3" r="2.65" fill="#2f5d94"/>
<circle cx="432" cy="252.1" r="2.65" fill="#5bbfe2"/>
<circle cx="436.1" cy="250.9" r="2.65" fill="#1c90d2"/>
<circle cx="441.7" cy="250.9" r="2.65" fill="#5bbfe2"/>
<circle cx="445.7" cy="250.9" r="2.65" fill="#5bbfe2"/>
<circle cx="455.8" cy="252.1" r="2.65" fill="#3a8a46"/>
<circle cx="480.3" cy="248.2" r="2.65" fill="#1c90d2"/>
<circle cx="471.1" cy="257.9" r="2.65" fill="#1c90d2"/>
<circle cx="455.8" cy="280.9" r="2.65" fill="#e6393f"/>
<circle cx="427.8" cy="268.3" r="2.65" fill="#1c90d2"/>
<circle cx="489.7" cy="267.4" r="2.65" fill="#f08a40"/>
<circle cx="495.3" cy="287.1" r="2.65" fill="#2f5d94"/>
<circle cx="506" cy="220.5" r="2.65" fill="#2b8e8b"/>
<circle cx="505.5" cy="224.6" r="2.65" fill="#1c90d2"/>
<circle cx="486.3" cy="224.6" r="2.65" fill="#3a8a46"/>
<circle cx="487.9" cy="244.9" r="2.65" fill="#3a8a46"/>
<circle cx="507.9" cy="273.7" r="2.65" fill="#1c90d2"/>
<circle cx="508.7" cy="286.5" r="2.65" fill="#2f5d94"/>
<circle cx="510.1" cy="158.1" r="2.65" fill="#2f5d94"/>
<circle cx="515.5" cy="164.7" r="2.65" fill="#1c90d2"/>
<circle cx="519.9" cy="162.6" r="2.65" fill="#1c90d2"/>
<circle cx="533.7" cy="162.6" r="2.65" fill="#1c90d2"/>
<circle cx="555.6" cy="159.3" r="2.65" fill="#1c90d2"/>
<circle cx="568.3" cy="135.4" r="2.65" fill="#2f5d94"/>
<circle cx="566.7" cy="146.7" r="2.65" fill="#2f5d94"/>
<circle cx="562.6" cy="153.7" r="2.65" fill="#2f5d94"/>
<circle cx="567.5" cy="171.6" r="2.65" fill="#2f5d94"/>
<circle cx="564.7" cy="185.7" r="2.65" fill="#2b8e8b"/>
<circle cx="571.1" cy="196.9" r="2.65" fill="#1c90d2"/>
<circle cx="567.9" cy="208.4" r="2.65" fill="#2f5d94"/>
<circle cx="589.4" cy="182.9" r="2.65" fill="#2f5d94"/>
<circle cx="512" cy="179.8" r="2.65" fill="#1c90d2"/>
<circle cx="517.7" cy="179.8" r="2.65" fill="#1c90d2"/>
<circle cx="523.3" cy="180.2" r="2.65" fill="#1c90d2"/>
<circle cx="546.4" cy="189.1" r="2.65" fill="#1c90d2"/>
<circle cx="520.3" cy="195.7" r="2.65" fill="#1c90d2"/>
<circle cx="514.6" cy="213.1" r="2.65" fill="#1c90d2"/>
<circle cx="527.3" cy="214.5" r="2.65" fill="#1c90d2"/>
<circle cx="517.7" cy="227.7" r="2.65" fill="#1c90d2"/>
<circle cx="522.9" cy="227.7" r="2.65" fill="#1c90d2"/>
<circle cx="531.7" cy="228.9" r="2.65" fill="#1c90d2"/>
<circle cx="535.5" cy="227.3" r="2.65" fill="#1c90d2"/>
<circle cx="542.4" cy="226.9" r="2.65" fill="#1c90d2"/>
<circle cx="547.3" cy="227.7" r="2.65" fill="#1c90d2"/>
<circle cx="539.5" cy="237.3" r="2.65" fill="#1c90d2"/>
<circle cx="564.5" cy="222.5" r="2.65" fill="#2b8e8b"/>
<circle cx="570" cy="231.3" r="2.65" fill="#1c90d2"/>
<circle cx="546" cy="254.6" r="2.65" fill="#1c90d2"/>
<circle cx="567.3" cy="244.9" r="2.65" fill="#2f5d94"/>
<circle cx="566.7" cy="255.9" r="2.65" fill="#2f5d94"/>
<circle cx="562.3" cy="263.5" r="2.65" fill="#2f5d94"/>
<circle cx="508.3" cy="273.9" r="2.65" fill="#1c90d2"/>
<circle cx="530.7" cy="280.3" r="2.65" fill="#1c90d2"/>
<circle cx="510" cy="286.5" r="2.65" fill="#2f5d94"/>
<circle cx="567.3" cy="280.5" r="2.65" fill="#2f5d94"/>
<circle cx="569.5" cy="293.7" r="2.65" fill="#1c90d2"/>
<circle cx="601.9" cy="235.2" r="2.65" fill="#2f5d94"/>
<circle cx="589.3" cy="182.9" r="2.65" fill="#2f5d94"/>
<circle cx="439.9" cy="306.9" r="2.65" fill="#a8b5d0"/>
<circle cx="469.6" cy="306.9" r="2.65" fill="#a8b5d0"/>
<circle cx="477" cy="305.5" r="2.65" fill="#1c90d2"/>
<circle cx="426.3" cy="311.8" r="2.65" fill="#1c90d2"/>
<circle cx="441.1" cy="324.2" r="2.65" fill="#f08a40"/>
<circle cx="462.8" cy="323.9" r="2.65" fill="#3a8a46"/>
<circle cx="428.2" cy="341.3" r="2.65" fill="#5bbfe2"/>
<circle cx="436.5" cy="345" r="2.65" fill="#f08a40"/>
<circle cx="418.5" cy="363.1" r="2.65" fill="#1c90d2"/>
<circle cx="424.6" cy="363.1" r="2.65" fill="#1c90d2"/>
<circle cx="423.4" cy="368.8" r="2.65" fill="#5bbfe2"/>
<circle cx="414.4" cy="372.6" r="2.65" fill="#5bbfe2"/>
<circle cx="425.5" cy="372.6" r="2.65" fill="#5bbfe2"/>
<circle cx="439.7" cy="371.6" r="2.65" fill="#f08a40"/>
<circle cx="401.2" cy="364.6" r="2.65" fill="#1c90d2"/>
<circle cx="462.6" cy="365.6" r="2.65" fill="#3a8a46"/>
<circle cx="425.5" cy="398.6" r="2.65" fill="#1c90d2"/>
<circle cx="568.8" cy="363.2" r="2.65" fill="#1c90d2"/>
<circle cx="588" cy="352.9" r="2.65" fill="#1c90d2"/>
<circle cx="594.6" cy="352.6" r="2.65" fill="#3a8a46"/>
<circle cx="608.5" cy="378.9" r="2.65" fill="#f08a40"/>
<circle cx="621.5" cy="378.2" r="2.65" fill="#2f5d94"/>
<circle cx="627" cy="372.7" r="2.65" fill="#2f5d94"/>
<circle cx="12.4" cy="356.6" r="2.65" fill="#1c90d2"/>
<circle cx="70.9" cy="348.3" r="2.65" fill="#1c90d2"/>
<circle cx="81.7" cy="348.3" r="2.65" fill="#1c90d2"/>
<circle cx="81.7" cy="339.1" r="2.65" fill="#5bbfe2"/>
<circle cx="88.9" cy="342.5" r="2.65" fill="#5bbfe2"/>
<circle cx="89.3" cy="356.2" r="2.65" fill="#f08a40"/>
<circle cx="123.2" cy="341.5" r="2.65" fill="#f08a40"/>
<circle cx="100.8" cy="372" r="2.65" fill="#3a8a46"/>
<circle cx="116.6" cy="374.5" r="2.65" fill="#f08a40"/>
<circle cx="210.2" cy="341.4" r="2.65" fill="#5bbfe2"/>
<circle cx="217.2" cy="343.8" r="2.65" fill="#5bbfe2"/>
<circle cx="212.5" cy="348.5" r="2.65" fill="#3a8a46"/>
<circle cx="226.5" cy="349.6" r="2.65" fill="#1c90d2"/>
<circle cx="239.4" cy="343.1" r="2.65" fill="#3a8a46"/>
<circle cx="180.2" cy="370" r="2.65" fill="#1c90d2"/>
<circle cx="209.4" cy="371.2" r="2.65" fill="#f08a40"/>
<circle cx="282.2" cy="365.4" r="2.65" fill="#3a8a46"/>
<circle cx="278.6" cy="370.8" r="2.65" fill="#5bbfe2"/>
<circle cx="286" cy="373.5" r="2.65" fill="#5bbfe2"/>
<circle cx="310.4" cy="340.5" r="2.65" fill="#3a8a46"/>
<circle cx="332.2" cy="339.1" r="2.65" fill="#3a8a46"/>
<circle cx="347.3" cy="341.9" r="2.65" fill="#3a8a46"/>
<circle cx="308.5" cy="371.7" r="2.65" fill="#f08a40"/>
<circle cx="317.5" cy="375.9" r="2.65" fill="#f08a40"/>
<circle cx="327.5" cy="376.2" r="2.65" fill="#f08a40"/>
<circle cx="337.2" cy="376.2" r="2.65" fill="#f08a40"/>
<circle cx="347.3" cy="374.2" r="2.65" fill="#f08a40"/>
<circle cx="300.4" cy="356.1" r="2.65" fill="#1c90d2"/>
<circle cx="296" cy="363.5" r="2.65" fill="#1c90d2"/>
<circle cx="329.4" cy="358.2" r="2.65" fill="#1c90d2"/>
<circle cx="358.1" cy="358.6" r="2.65" fill="#f08a40"/>
<circle cx="397.7" cy="343.4" r="2.65" fill="#1c90d2"/>
<circle cx="400.5" cy="364.2" r="2.65" fill="#1c90d2"/>
<circle cx="707.8" cy="134.8" r="2.65" fill="#2f5d94"/>
<circle cx="708.1" cy="153.7" r="2.65" fill="#2f5d94"/>
<circle cx="658.3" cy="159.7" r="2.65" fill="#2f5d94"/>
<circle cx="662.3" cy="167.6" r="2.65" fill="#2f5d94"/>
<circle cx="671.9" cy="168.3" r="2.65" fill="#1c90d2"/>
<circle cx="688.9" cy="167" r="2.65" fill="#2f5d94"/>
<circle cx="709.4" cy="174.6" r="2.65" fill="#2f5d94"/>
<circle cx="707.8" cy="194.5" r="2.65" fill="#2f5d94"/>
<circle cx="660.7" cy="208.4" r="2.65" fill="#2f5d94"/>
<circle cx="688.9" cy="209.1" r="2.65" fill="#2f5d94"/>
<circle cx="710.1" cy="212.8" r="2.65" fill="#2f5d94"/>
<circle cx="633.8" cy="228.6" r="2.65" fill="#2f5d94"/>
<circle cx="780.8" cy="164" r="2.65" fill="#2f5d94"/>
<circle cx="790" cy="173" r="2.65" fill="#2f5d94"/>
<circle cx="793.7" cy="195.8" r="2.65" fill="#2f5d94"/>
<circle cx="658.7" cy="238.2" r="2.65" fill="#2f5d94"/>
<circle cx="662.3" cy="246.8" r="2.65" fill="#2f5d94"/>
<circle cx="689.9" cy="242.5" r="2.65" fill="#2f5d94"/>
<circle cx="707.1" cy="232.5" r="2.65" fill="#2f5d94"/>
<circle cx="708.4" cy="254.1" r="2.65" fill="#2f5d94"/>
<circle cx="731" cy="268.7" r="2.65" fill="#2f5d94"/>
<circle cx="709.1" cy="275" r="2.65" fill="#2f5d94"/>
<circle cx="790.1" cy="247.5" r="2.65" fill="#2f5d94"/>
<circle cx="786.8" cy="272.4" r="2.65" fill="#1c90d2"/>
<circle cx="791.7" cy="271.4" r="2.65" fill="#2f5d94"/>
<circle cx="801" cy="271.7" r="2.65" fill="#1c90d2"/>
<circle cx="872.9" cy="133.1" r="2.65" fill="#2f5d94"/>
<circle cx="843" cy="152" r="2.65" fill="#2f5d94"/>
<circle cx="901" cy="168" r="2.65" fill="#2f5d94"/>
<circle cx="852.7" cy="175.5" r="2.65" fill="#2f5d94"/>
<circle cx="849.3" cy="192.8" r="2.65" fill="#2f5d94"/>
<circle cx="859.8" cy="215" r="2.65" fill="#2f5d94"/>
<circle cx="852.3" cy="235.2" r="2.65" fill="#2f5d94"/>
<circle cx="852.3" cy="254.1" r="2.65" fill="#2f5d94"/>
<circle cx="899.7" cy="254.1" r="2.65" fill="#2f5d94"/>
<circle cx="871.6" cy="274.7" r="2.65" fill="#2f5d94"/>
<circle cx="876.4" cy="298.3" r="2.65" fill="#2f5d94"/>
<circle cx="828.3" cy="296.5" r="2.65" fill="#1c90d2"/>
<circle cx="807.8" cy="317.4" r="2.65" fill="#2f5d94"/>
<circle cx="1048" cy="304.7" r="2.65" fill="#2f5d94"/>
<circle cx="932.3" cy="327.6" r="2.65" fill="#1c90d2"/>
<circle cx="937.2" cy="340.9" r="2.65" fill="#2f5d94"/>
<circle cx="932.6" cy="342.8" r="2.65" fill="#2f5d94"/>
<circle cx="801.3" cy="352.3" r="2.65" fill="#2f5d94"/>
<circle cx="820.4" cy="346.6" r="2.65" fill="#2f5d94"/>
<circle cx="840.5" cy="350" r="2.65" fill="#2f5d94"/>
<circle cx="861.1" cy="348.9" r="2.65" fill="#2f5d94"/>
<circle cx="879.7" cy="350" r="2.65" fill="#2f5d94"/>
<circle cx="900.3" cy="348.9" r="2.65" fill="#2f5d94"/>
<circle cx="919.7" cy="349.3" r="2.65" fill="#2f5d94"/>
<circle cx="941" cy="349.3" r="2.65" fill="#2f5d94"/>
<circle cx="958.5" cy="349.3" r="2.65" fill="#2f5d94"/>
<circle cx="980.2" cy="347.8" r="2.65" fill="#2f5d94"/>
<circle cx="998.5" cy="348.5" r="2.65" fill="#2f5d94"/>
<circle cx="1019" cy="350" r="2.65" fill="#2f5d94"/>
<circle cx="1037.7" cy="346.6" r="2.65" fill="#2f5d94"/>
<circle cx="940.3" cy="385" r="2.65" fill="#2f5d94"/>
<circle cx="960.4" cy="383.5" r="2.65" fill="#2f5d94"/>
<circle cx="1000.4" cy="383.2" r="2.65" fill="#2f5d94"/>
<circle cx="979.5" cy="395.3" r="2.65" fill="#2f5d94"/>
<circle cx="1000" cy="398.4" r="2.65" fill="#2f5d94"/>
<circle cx="1019.4" cy="397.6" r="2.65" fill="#2f5d94"/>
<circle cx="727.7" cy="317.2" r="2.65" fill="#1c90d2"/>
<circle cx="717.1" cy="320.8" r="2.65" fill="#2f5d94"/>
<circle cx="723.7" cy="325.5" r="2.65" fill="#2f5d94"/>
<circle cx="729.4" cy="329.4" r="2.65" fill="#2f5d94"/>
<circle cx="736" cy="334.4" r="2.65" fill="#2f5d94"/>
<circle cx="741.6" cy="339.7" r="2.65" fill="#2f5d94"/>
<circle cx="748.6" cy="344.7" r="2.65" fill="#2f5d94"/>
<circle cx="757.9" cy="345.4" r="2.65" fill="#2f5d94"/>
<circle cx="768.2" cy="345.4" r="2.65" fill="#2f5d94"/>
<circle cx="776.8" cy="345.4" r="2.65" fill="#2f5d94"/>
<circle cx="785.4" cy="345.4" r="2.65" fill="#2f5d94"/>
<circle cx="791.7" cy="345.4" r="2.65" fill="#2f5d94"/>
<circle cx="794.4" cy="336.1" r="2.65" fill="#1c90d2"/>
</svg>
<div class="topbar"></div>
<div class="botbar"></div>
</body></html>
